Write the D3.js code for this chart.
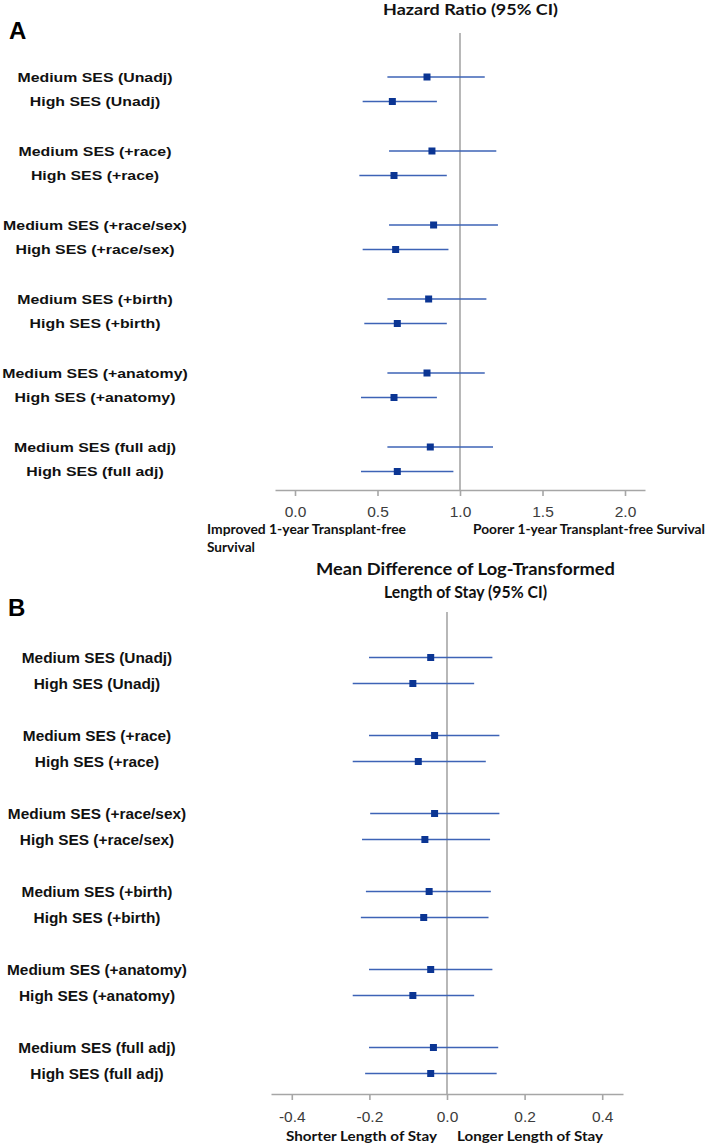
<!DOCTYPE html>
<html>
<head>
<meta charset="utf-8">
<script src="https://cdn.jsdelivr.net/npm/d3@7"></script>
<style>
  html, body { margin: 0; padding: 0; background: #fff; }
  svg { display: block; }
</style>
</head>
<body>
<svg id="chart" width="709" height="1145"></svg>
<script>
// ---------------- DATA ----------------
const adjustments = ["Unadj", "+race", "+race/sex", "+birth", "+anatomy", "full adj"];
const sesLevels = ["Medium SES", "High SES"];

// Panel A: Hazard ratio (95% CI) — order: [Medium, High] per adjustment
const hrEstimate = [0.80, 0.59, 0.83, 0.60, 0.84, 0.61, 0.81, 0.62, 0.80, 0.60, 0.82, 0.62];
const hrLower    = [0.56, 0.41, 0.57, 0.39, 0.57, 0.41, 0.56, 0.42, 0.56, 0.40, 0.56, 0.40];
const hrUpper    = [1.15, 0.86, 1.22, 0.92, 1.23, 0.93, 1.16, 0.92, 1.15, 0.86, 1.20, 0.96];
const hrTicks    = [0.0, 0.5, 1.0, 1.5, 2.0];

// Panel B: Mean difference of log-transformed length of stay (95% CI)
const losEstimate = [-0.042, -0.088, -0.032, -0.074, -0.032, -0.057, -0.046, -0.060, -0.042, -0.088, -0.035, -0.042];
const losLower    = [-0.201, -0.243, -0.201, -0.243, -0.198, -0.219, -0.209, -0.222, -0.201, -0.243, -0.201, -0.211];
const losUpper    = [ 0.117,  0.070,  0.135,  0.100,  0.135,  0.111,  0.113,  0.107,  0.117,  0.070,  0.132,  0.128];
const losTicks    = [-0.4, -0.2, 0.0, 0.2, 0.4];

// ---------------- BUILD ROWS ----------------
const rows = [];
adjustments.forEach((adj, g) => {
  sesLevels.forEach((lvl, m) => rows.push({ label: `${lvl} (${adj})`, group: adj, member: m }));
});

const svg = d3.select("#chart");
const markColor = "#0b3593";
const lineColor = "#3d63b6";
const axisColor = "#a6a6a6";
const labelFont = "'Liberation Sans', Arial, sans-serif";
const titleFont = "Lato, 'Open Sans', sans-serif";

function panel(cfg) {
  const g = svg.append("g");
  const x = d3.scaleLinear().domain(cfg.domain).range(cfg.range);
  const yGroup = d3.scalePoint().domain(adjustments).range(cfg.yRange);
  const yPos = r => yGroup(r.group) + r.member * cfg.memberGap;

  // reference line
  g.append("line")
    .attr("x1", x(cfg.ref)).attr("x2", x(cfg.ref))
    .attr("y1", cfg.refTop).attr("y2", cfg.axisY)
    .attr("stroke", axisColor).attr("stroke-width", 1.6);

  // axis
  const axis = d3.axisBottom(x).tickValues(cfg.ticks).tickSize(6).tickSizeOuter(0)
    .tickFormat(d3.format(".1f"));
  const ax = g.append("g").attr("transform", `translate(0,${cfg.axisY})`).call(axis);
  ax.select(".domain").attr("stroke", axisColor).attr("stroke-width", 1.6);
  ax.selectAll(".tick line").attr("stroke", axisColor).attr("stroke-width", 1.6);
  ax.selectAll(".tick text")
    .attr("y", cfg.tickLabelOffset).attr("dy", "0.35em")
    .attr("fill", "#3c3c3c")
    .style("font-family", labelFont).style("font-size", "15.5px")
    .text(d => d3.format(".1f")(d).replace("−", "-"));

  // CI lines
  g.selectAll("line.ci").data(rows).join("line").attr("class", "ci")
    .attr("x1", (d, i) => x(cfg.lower[i])).attr("x2", (d, i) => x(cfg.upper[i]))
    .attr("y1", d => yPos(d)).attr("y2", d => yPos(d))
    .attr("stroke", lineColor).attr("stroke-width", 1.6);

  // point estimates
  const s = 7;
  g.selectAll("rect.pt").data(rows).join("rect").attr("class", "pt")
    .attr("x", (d, i) => x(cfg.est[i]) - s / 2)
    .attr("y", d => yPos(d) - s / 2)
    .attr("width", s).attr("height", s)
    .attr("fill", markColor);

  // row labels
  g.selectAll("g.lab").data(rows).join("g").attr("class", "lab")
    .attr("transform", d => `translate(${cfg.labelCenter},${yPos(d)}) scale(${cfg.labelScale},1)`)
    .append("text")
    .attr("text-anchor", "middle").attr("dy", "0.36em")
    .style("font-family", labelFont).style("font-weight", "bold")
    .style("font-size", cfg.labelSize + "px")
    .attr("fill", "#111")
    .text(d => d.label);
  return g;
}

function fitText(x, y, text, width, size, anchor) {
  return svg.append("text")
    .attr("x", x).attr("y", y)
    .attr("text-anchor", anchor || "start")
    .attr("dy", "0.35em")
    .attr("textLength", width).attr("lengthAdjust", "spacingAndGlyphs")
    .style("font-family", titleFont).style("font-weight", "bold")
    .style("font-size", size + "px").attr("fill", "#111")
    .text(text);
}

// ---------------- PANEL A ----------------
panel({
  domain: [-0.1212, 2.1212], range: [275, 645], ref: 1.0, refTop: 33, axisY: 490,
  ticks: hrTicks, est: hrEstimate, lower: hrLower, upper: hrUpper,
  yRange: [77, 447], memberGap: 24.5, tickLabelOffset: 21.5,
  labelCenter: 95, labelScale: 1.22, labelSize: 13
});
svg.append("text").attr("x", 9).attr("y", 38.5)
  .style("font-family", labelFont).style("font-weight", "bold").style("font-size", "24px")
  .text("A");
fitText(470.5, 9.5, "Hazard Ratio (95% CI)", 175, 16, "middle");
fitText(207, 529.5, "Improved 1-year Transplant-free", 199, 13.5);
fitText(207, 547.5, "Survival", 48, 13.5);
fitText(473, 529.5, "Poorer 1-year Transplant-free Survival", 232, 13.5);

// ---------------- PANEL B ----------------
panel({
  domain: [-0.4536, 0.4536], range: [271, 623], ref: 0.0, refTop: 612, axisY: 1094,
  ticks: losTicks, est: losEstimate, lower: losLower, upper: losUpper,
  yRange: [657.5, 1047.5], memberGap: 26, tickLabelOffset: 22.5,
  labelCenter: 97, labelScale: 1.1, labelSize: 14
});
svg.append("text").attr("x", 8).attr("y", 616)
  .style("font-family", labelFont).style("font-weight", "bold").style("font-size", "24px")
  .text("B");
fitText(465.5, 569, "Mean Difference of Log-Transformed", 299, 17, "middle");
fitText(465.5, 592, "Length of Stay (95% CI)", 163, 17, "middle");
fitText(286, 1136, "Shorter Length of Stay", 151, 13.5);
fitText(457, 1136, "Longer Length of Stay", 146, 13.5);
</script>
</body>
</html>
